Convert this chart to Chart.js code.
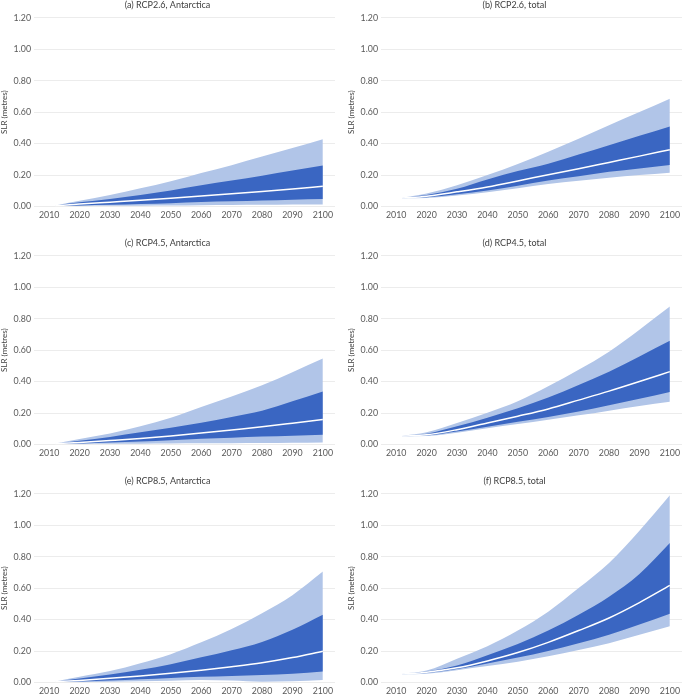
<!DOCTYPE html>
<html>
<head>
<meta charset="utf-8">
<script src="https://cdn.jsdelivr.net/npm/chart.js@4.4.0/dist/chart.umd.min.js"></script>
<style>
body { margin: 0; background: #fff; overflow: hidden; }
.panel { position: absolute; width: 338px; height: 224px; }
</style>
</head>
<body>
<div class="panel" style="left:0;top:0"><canvas id="a" width="338" height="224"></canvas></div>
<div class="panel" style="left:347px;top:0"><canvas id="b" width="338" height="224"></canvas></div>
<div class="panel" style="left:0;top:238px"><canvas id="c" width="338" height="224"></canvas></div>
<div class="panel" style="left:347px;top:238px"><canvas id="d" width="338" height="224"></canvas></div>
<div class="panel" style="left:0;top:476px"><canvas id="e" width="338" height="224"></canvas></div>
<div class="panel" style="left:347px;top:476px"><canvas id="f" width="338" height="224"></canvas></div>
<script>
var years = [2012, 2020, 2030, 2040, 2050, 2060, 2070, 2080, 2090, 2100];
var xTicks = [2010, 2020, 2030, 2040, 2050, 2060, 2070, 2080, 2090, 2100];

// (a) RCP2.6, Antarctica
var aOuterLow = [0.004, 0.003, 0.004, 0.005, 0.006, 0.008, 0.009, 0.010, 0.012, 0.013];
var aInnerLow = [0.004, 0.006, 0.010, 0.015, 0.021, 0.028, 0.033, 0.038, 0.043, 0.047];
var aMedian   = [0.005, 0.015, 0.027, 0.039, 0.052, 0.066, 0.080, 0.095, 0.111, 0.128];
var aInnerUp  = [0.005, 0.026, 0.048, 0.073, 0.102, 0.135, 0.165, 0.196, 0.228, 0.260];
var aOuterUp  = [0.006, 0.036, 0.073, 0.115, 0.160, 0.212, 0.262, 0.317, 0.372, 0.428];

// (b) RCP2.6, total
var bOuterLow = [0.052, 0.054, 0.070, 0.090, 0.115, 0.142, 0.163, 0.183, 0.200, 0.215];
var bInnerLow = [0.052, 0.058, 0.078, 0.101, 0.132, 0.165, 0.192, 0.220, 0.242, 0.263];
var bMedian   = [0.053, 0.065, 0.093, 0.124, 0.162, 0.202, 0.240, 0.280, 0.320, 0.361];
var bInnerUp  = [0.054, 0.072, 0.113, 0.172, 0.225, 0.272, 0.330, 0.390, 0.450, 0.509];
var bOuterUp  = [0.055, 0.083, 0.135, 0.200, 0.270, 0.348, 0.430, 0.516, 0.600, 0.685];

// (c) RCP4.5, Antarctica
var cOuterLow = [0.004, 0.003, 0.004, 0.005, 0.006, 0.007, 0.008, 0.009, 0.011, 0.013];
var cInnerLow = [0.004, 0.006, 0.012, 0.019, 0.027, 0.036, 0.043, 0.050, 0.056, 0.061];
var cMedian   = [0.005, 0.013, 0.025, 0.038, 0.054, 0.072, 0.092, 0.112, 0.135, 0.159];
var cInnerUp  = [0.005, 0.024, 0.048, 0.077, 0.106, 0.138, 0.175, 0.215, 0.275, 0.337];
var cOuterUp  = [0.006, 0.035, 0.070, 0.115, 0.170, 0.238, 0.305, 0.376, 0.460, 0.547];

// (d) RCP4.5, total
var dOuterLow = [0.052, 0.054, 0.075, 0.103, 0.130, 0.157, 0.185, 0.215, 0.245, 0.272];
var dInnerLow = [0.052, 0.057, 0.082, 0.113, 0.145, 0.175, 0.210, 0.250, 0.290, 0.333];
var dMedian   = [0.053, 0.061, 0.094, 0.137, 0.180, 0.226, 0.282, 0.339, 0.400, 0.463];
var dInnerUp  = [0.054, 0.068, 0.115, 0.170, 0.230, 0.298, 0.378, 0.463, 0.560, 0.659];
var dOuterUp  = [0.055, 0.078, 0.137, 0.202, 0.275, 0.370, 0.475, 0.590, 0.730, 0.877];

// (e) RCP8.5, Antarctica
var eOuterLow = [0.004, 0.003, 0.005, 0.008, 0.011, 0.016, 0.013, 0.005, 0.007, 0.016];
var eInnerLow = [0.004, 0.006, 0.012, 0.020, 0.029, 0.036, 0.041, 0.047, 0.055, 0.069];
var eMedian   = [0.005, 0.013, 0.026, 0.041, 0.058, 0.078, 0.100, 0.125, 0.158, 0.198];
var eInnerUp  = [0.005, 0.025, 0.050, 0.080, 0.116, 0.160, 0.205, 0.258, 0.335, 0.430];
var eOuterUp  = [0.006, 0.036, 0.072, 0.122, 0.180, 0.255, 0.340, 0.440, 0.555, 0.705];

// (f) RCP8.5, total
var fOuterLow = [0.052, 0.056, 0.078, 0.104, 0.132, 0.167, 0.206, 0.249, 0.303, 0.357];
var fInnerLow = [0.052, 0.060, 0.085, 0.120, 0.158, 0.200, 0.249, 0.303, 0.368, 0.437];
var fMedian   = [0.053, 0.065, 0.093, 0.137, 0.190, 0.255, 0.330, 0.410, 0.508, 0.617];
var fInnerUp  = [0.054, 0.070, 0.108, 0.173, 0.245, 0.330, 0.430, 0.545, 0.690, 0.887];
var fOuterUp  = [0.055, 0.076, 0.151, 0.231, 0.330, 0.450, 0.600, 0.760, 0.965, 1.190];

var lightBlue = '#b1c5e8';
var darkBlue = '#3a66c2';

Chart.defaults.font.family = 'Lato, "Open Sans", sans-serif';

var pts = (vals) => years.map((y, i) => ({ x: y, y: vals[i] }));

var band = (vals, fill, color, order) => ({
	data: pts(vals),
	borderWidth: 0,
	borderColor: 'rgba(0,0,0,0)',
	pointRadius: 0,
	cubicInterpolationMode: 'monotone',
	fill: fill,
	backgroundColor: color,
	order: order
});

window.makePanel = (id, title, outerLow, innerLow, median, innerUp, outerUp) => {
	var context = document.getElementById(id).getContext('2d');
	new Chart(context, {
		type: 'line',
		data: {
			datasets: [
				band(outerLow, false, lightBlue, 3),
				band(outerUp, '-1', lightBlue, 3),
				band(innerLow, false, darkBlue, 2),
				band(innerUp, '-1', darkBlue, 2),
				{ data: pts(median), borderColor: '#ffffff', borderWidth: 1.5, pointRadius: 0, cubicInterpolationMode: 'monotone', fill: false, order: 1 }
			]
		},
		options: {
			responsive: false,
			animation: false,
			devicePixelRatio: 1,
			layout: { padding: { left: 0, right: 3, top: 0, bottom: 1 } },
			plugins: {
				legend: { display: false },
				tooltip: { enabled: false },
				title: {
					display: true,
					text: title,
					color: '#404040',
					font: { size: 9, weight: 'normal' },
					padding: { top: 0, bottom: 7 }
				}
			},
			scales: {
				x: {
					type: 'linear',
					min: 2005,
					max: 2104,
					afterBuildTicks: (axis) => { axis.ticks = xTicks.map(v => ({ value: v })); },
					ticks: { callback: (v) => String(v), color: '#595959', font: { size: 8.8 }, padding: 3, maxRotation: 0 },
					grid: { display: false, drawTicks: false, tickLength: 0 },
					border: { display: false }
				},
				y: {
					min: 0,
					max: 1.2,
					ticks: { stepSize: 0.2, callback: (v) => v.toFixed(2), color: '#595959', font: { size: 8.8 }, padding: 3 },
					grid: { color: '#ececec', drawTicks: false },
					border: { display: false },
					title: { display: true, text: 'SLR (metres)', color: '#404040', font: { size: 8 }, padding: { top: 0, bottom: 1 } }
				}
			}
		}
	});
}

makePanel('a', '(a) RCP2.6, Antarctica', aOuterLow, aInnerLow, aMedian, aInnerUp, aOuterUp);
makePanel('b', '(b) RCP2.6, total', bOuterLow, bInnerLow, bMedian, bInnerUp, bOuterUp);
makePanel('c', '(c) RCP4.5, Antarctica', cOuterLow, cInnerLow, cMedian, cInnerUp, cOuterUp);
makePanel('d', '(d) RCP4.5, total', dOuterLow, dInnerLow, dMedian, dInnerUp, dOuterUp);
makePanel('e', '(e) RCP8.5, Antarctica', eOuterLow, eInnerLow, eMedian, eInnerUp, eOuterUp);
makePanel('f', '(f) RCP8.5, total', fOuterLow, fInnerLow, fMedian, fInnerUp, fOuterUp);
</script>
</body>
</html>
